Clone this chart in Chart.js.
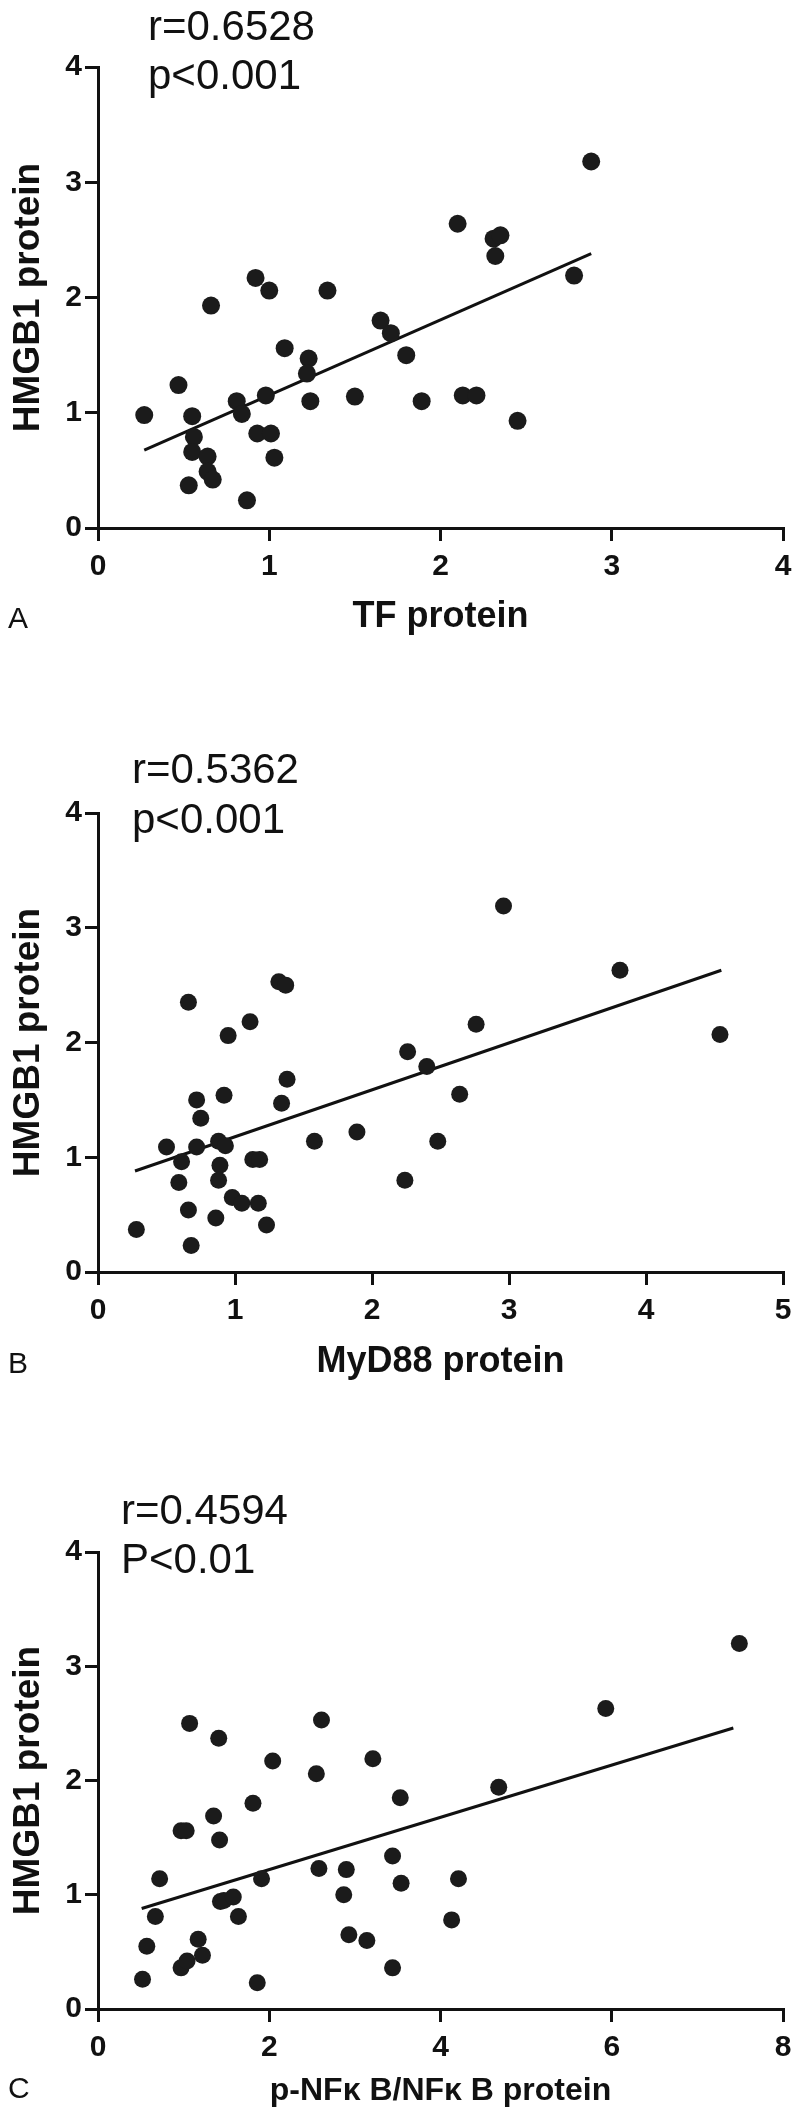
<!DOCTYPE html>
<html><head><meta charset="utf-8">
<script src="https://cdn.jsdelivr.net/npm/chart.js@4.4.0/dist/chart.umd.min.js"></script>
<style>
html,body{margin:0;padding:0;background:#fff;}
body{width:800px;height:2124px;position:relative;overflow:hidden;}
canvas{position:absolute;left:0;}
</style></head><body>
<canvas id="cA" width="800" height="720" style="top:0px"></canvas>
<canvas id="cB" width="800" height="720" style="top:720px"></canvas>
<canvas id="cC" width="800" height="684" style="top:1440px"></canvas>
<script>
// ---- Data ----
const yAxisTitle = 'HMGB1 protein';
const yTicks = [0, 1, 2, 3, 4];

// Panel A: TF protein vs HMGB1 protein
const tfX = [0.27,0.47,0.55,0.56,0.55,0.64,0.64,0.67,0.53,0.87,0.81,0.84,0.98,0.93,1.01,1.03,1.09,1.23,1.22,1.24,1.50,1.65,1.71,1.80,1.89,2.13,2.21,2.45,0.66,0.92,1.00,1.34,2.10,2.31,2.35,2.32,2.78,2.88];
const tfY = [0.98,1.24,0.97,0.79,0.66,0.62,0.49,0.42,0.37,0.24,1.10,0.99,1.15,0.82,0.82,0.61,1.56,1.47,1.34,1.10,1.14,1.80,1.69,1.50,1.10,1.15,1.15,0.93,1.93,2.17,2.06,2.06,2.64,2.51,2.54,2.36,2.19,3.18];
const tfFitX = [0.27, 2.88];
const tfFitY = [0.675, 2.38];
const tfTicks = [0, 1, 2, 3, 4];
const tfStats = ['r=0.6528', 'p<0.001'];

// Panel B: MyD88 protein vs HMGB1 protein
const mydX = [0.28,0.68,0.66,0.50,0.61,0.59,0.66,0.72,0.72,0.75,0.88,0.93,0.89,0.88,0.86,0.92,0.95,0.98,1.05,1.13,1.18,1.17,1.23,1.11,1.32,1.37,1.34,1.38,1.58,1.89,2.26,2.40,2.24,2.48,2.64,2.76,3.81,2.96,4.54];
const mydY = [0.37,0.23,2.35,1.09,0.96,0.78,0.54,1.09,1.50,1.34,1.14,1.10,0.93,0.80,0.47,1.54,2.06,0.65,0.60,0.98,0.98,0.60,0.41,2.18,2.53,2.50,1.47,1.68,1.14,1.22,1.92,1.79,0.80,1.14,1.55,2.16,2.63,3.19,2.07];
const mydFitX = [0.27, 4.55];
const mydFitY = [0.88, 2.63];
const mydTicks = [0, 1, 2, 3, 4, 5];
const mydStats = ['r=0.5362', 'p<0.001'];

// Panel C: p-NFkB/NFkB protein vs HMGB1 protein
const nfX = [0.52,0.57,0.67,0.72,0.97,1.04,1.17,1.22,0.97,1.03,1.07,1.41,1.35,1.42,1.43,1.47,1.58,1.64,1.81,1.86,1.91,2.04,2.55,2.58,2.61,2.87,2.90,2.93,3.14,3.21,3.44,3.44,3.53,3.54,4.13,4.21,4.68,5.93,7.49];
const nfY = [0.26,0.55,0.81,1.14,0.36,0.42,0.61,0.47,1.56,1.56,2.50,2.37,1.69,1.48,0.94,0.95,0.98,0.81,1.80,0.23,1.14,2.17,2.06,1.23,2.53,1.00,1.22,0.65,0.60,2.19,1.34,0.36,1.85,1.10,0.78,1.14,1.94,2.63,3.20];
const nfFitX = [0.51, 7.42];
const nfFitY = [0.88, 2.46];
const nfTicks = [0, 2, 4, 6, 8];
const nfStats = ['r=0.4594', 'P<0.01'];

// ---- Rendering ----
const FONT = "'Liberation Sans', Arial, Helvetica, sans-serif";
Chart.defaults.font.family = FONT;
Chart.defaults.color = '#111';

function pts(xs, ys) { return xs.map((x, i) => ({x: x, y: ys[i]})); }

const textPlugin = {
  id: 'panelText',
  afterDraw(chart, args, opts) {
    const ctx = chart.ctx;
    ctx.save();
    ctx.fillStyle = '#111';
    ctx.textAlign = 'left';
    ctx.textBaseline = 'alphabetic';
    ctx.font = '42px ' + FONT;
    opts.stats.forEach((t, i) => ctx.fillText(t, opts.statsX, opts.statsY[i]));
    ctx.font = '30px ' + FONT;
    ctx.fillText(opts.letter, 8, opts.letterY);
    ctx.restore();
  }
};

function makePanel(id, cfg) {
  const H = cfg.H;
  new Chart(document.getElementById(id), {
    type: 'scatter',
    data: {
      datasets: [
        {
          data: pts(cfg.xs, cfg.ys),
          pointRadius: cfg.r,
          pointHoverRadius: cfg.r,
          backgroundColor: '#1b1b1b',
          borderWidth: 0,
          showLine: false
        },
        {
          type: 'line',
          data: pts(cfg.fitX, cfg.fitY),
          borderColor: '#111',
          borderWidth: 3,
          pointRadius: 0,
          fill: false,
          tension: 0
        }
      ]
    },
    options: {
      responsive: false,
      animation: false,
      devicePixelRatio: 1,
      layout: {padding: {left: 0, right: 17, top: cfg.top, bottom: 0}},
      plugins: {
        legend: {display: false},
        tooltip: {enabled: false},
        panelText: {stats: cfg.stats, statsX: cfg.statsX, statsY: cfg.statsY, letter: cfg.letter, letterY: cfg.letterY}
      },
      scales: {
        x: {
          type: 'linear',
          min: cfg.xTicks[0],
          max: cfg.xTicks[cfg.xTicks.length - 1],
          afterBuildTicks: (s) => { s.ticks = cfg.xTicks.map(v => ({value: v})); },
          afterFit: (s) => { s.height = H - cfg.bottom; },
          border: {display: true, color: '#111', width: 3},
          grid: {display: true, drawOnChartArea: false, drawTicks: true, tickLength: 13, color: '#111', lineWidth: 3},
          ticks: {color: '#111', padding: 8, font: {size: 30, weight: 'bold'}, maxRotation: 0},
          title: {display: true, text: cfg.xTitle, color: '#111', font: {size: cfg.xTitleSize, weight: 'bold'}, padding: {top: 0, bottom: cfg.xTitlePad}}
        },
        y: {
          type: 'linear',
          min: 0,
          max: 4,
          afterBuildTicks: (s) => { s.ticks = yTicks.map(v => ({value: v})); },
          afterFit: (s) => { s.width = 98; },
          border: {display: true, color: '#111', width: 3},
          grid: {display: true, drawOnChartArea: false, drawTicks: true, tickLength: 13, color: '#111', lineWidth: 3},
          ticks: {color: '#111', padding: 3, font: {size: 30, weight: 'bold'}},
          title: {display: true, text: yAxisTitle, color: '#111', font: {size: 37, weight: 'bold'}, padding: {top: 7, bottom: 0}}
        }
      }
    },
    plugins: [textPlugin]
  });
}

makePanel('cA', {H: 720, top: 67, bottom: 528, xs: tfX, ys: tfY, fitX: tfFitX, fitY: tfFitY, xTicks: tfTicks,
  xTitle: 'TF protein', xTitleSize: 36, xTitlePad: 81, r: 9,
  stats: tfStats, statsX: 148, statsY: [40, 89], letter: 'A', letterY: 628});
makePanel('cB', {H: 720, top: 93, bottom: 552, xs: mydX, ys: mydY, fitX: mydFitX, fitY: mydFitY, xTicks: mydTicks,
  xTitle: 'MyD88 protein', xTitleSize: 36, xTitlePad: 56, r: 8.5,
  stats: mydStats, statsX: 132, statsY: [63, 113], letter: 'B', letterY: 653});
makePanel('cC', {H: 684, top: 112, bottom: 569, xs: nfX, ys: nfY, fitX: nfFitX, fitY: nfFitY, xTicks: nfTicks,
  xTitle: 'p-NF\u03BA B/NF\u03BA B protein', xTitleSize: 32, xTitlePad: 14, r: 8.5,
  stats: nfStats, statsX: 121, statsY: [84, 133], letter: 'C', letterY: 658});
</script>
</body></html>
